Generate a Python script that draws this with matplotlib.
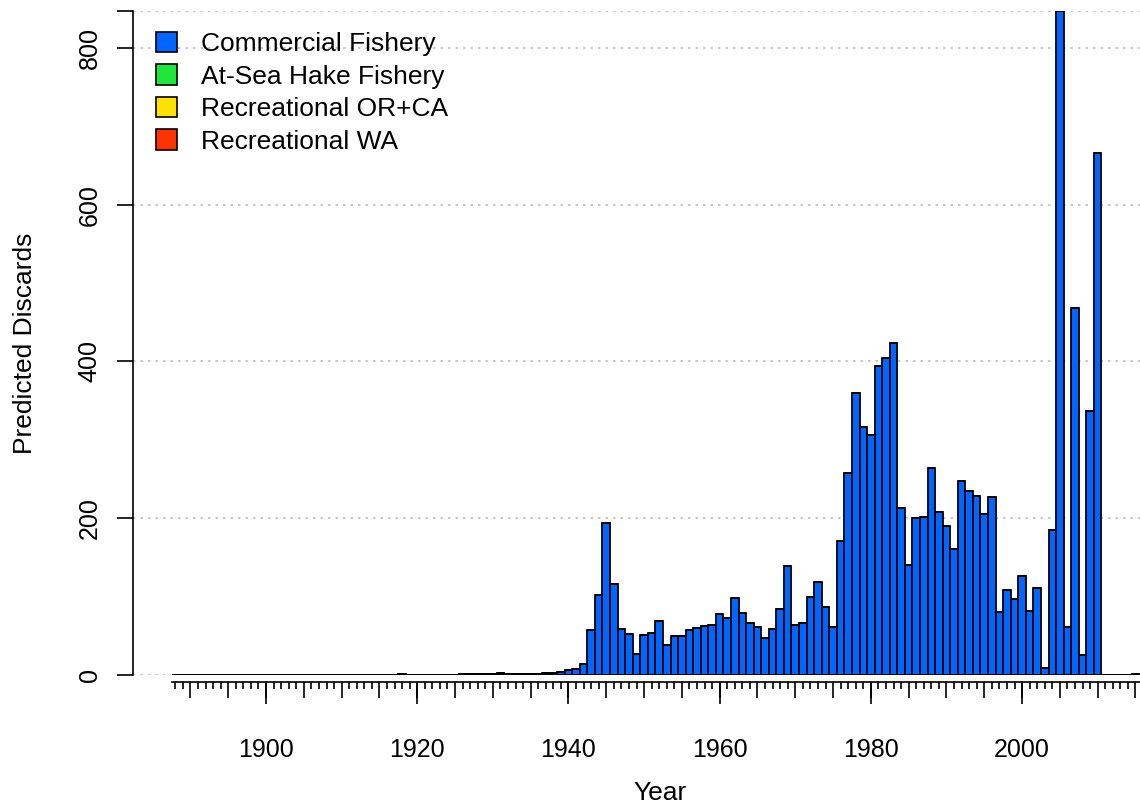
import numpy as np
import matplotlib.pyplot as plt
from matplotlib.patches import Patch
from matplotlib.ticker import FuncFormatter

plt.rcParams['font.family'] = ['Liberation Sans', 'DejaVu Sans']

years = np.arange(1888, 2016)

# predicted discards by fleet (stacked)
commercial = [
    0, 0,
    0, 0, 0, 0, 0, 0, 0, 0, 0, 0,
    0, 0, 0, 0, 0, 0, 0, 0, 0, 0,
    0, 0, 0, 0, 0, 0, 0, 0.3, 1.0, 0.3,
    0.2, 0.2, 0.2, 0.2, 0.2, 0.6, 0.7, 0.8, 0.8, 1.0,
    1.5, 2.0, 1.4, 0.9, 1.0, 1.5, 1.6, 2.0, 2.4, 3.5,
    6.4, 7.7, 13.6, 57.4, 102, 193.5, 115.6, 58.2, 52.7, 26.4,
    51.4, 53.6, 69.3, 38.3, 49.7, 49.7, 57.8, 59.9, 62, 63.3,
    77.4, 72.3, 97.8, 79.7, 66.7, 61.6, 46.8, 58.7, 84.2, 139.4,
    63.8, 65.9, 99.9, 119, 86.3, 61.6, 171.3, 257.2, 360, 316.7,
    306, 394.5, 404.7, 423.8, 212.6, 140.3, 199.8, 201.9, 264.4, 208.3,
    190.5, 160.7, 247.4, 234.7, 228.3, 205.3, 227.4, 79.9, 108.4, 96.9,
    126.7, 82, 110.5, 9.4, 184.9, 847, 61, 468, 25.6, 337,
    666, 0, 0, 0, 0, 1.2,
]
hake = [0.0] * len(years)
rec_orca = [0.0] * len(years)
rec_wa = [0.0] * len(years)

fleets = ['Commercial Fishery', 'At-Sea Hake Fishery',
          'Recreational OR+CA', 'Recreational WA']
colors = ['#0066FF', '#1EE63C', '#FFE100', '#FF3300']
series = [commercial, hake, rec_orca, rec_wa]

total = np.sum(series, axis=0)
ymax = total.max()

fig = plt.figure(figsize=(11.4, 8.08), dpi=100)
ax = fig.add_axes([133/1140, 1 - 675/808, 1007/1140, 664/808])

bottom = np.zeros(len(years))
for vals, col in zip(series, colors):
    ax.bar(years, vals, width=1.0, bottom=bottom, color=col,
           edgecolor='black', linewidth=1.3, zorder=2)
    bottom = bottom + np.array(vals)

for h in [0, 200, 400, 600, 800, ymax]:
    ax.axhline(h, color='#BDBDBD', lw=1.2, ls=(0, (1.5, 3)), zorder=1)

ax.set_xlim(1882.4, 2015.6)
ax.set_ylim(0, ymax)

for s in ['top', 'right']:
    ax.spines[s].set_visible(False)
ax.spines['left'].set_bounds(0, ymax)
ax.spines['left'].set_linewidth(1.2)
ax.spines['bottom'].set_position(('outward', 5))
ax.spines['bottom'].set_bounds(1887.5, 2015.6)
ax.spines['bottom'].set_linewidth(1.2)

ax.set_yticks([0, 200, 400, 600, 800, ymax])
ax.set_yticklabels(['0', '200', '400', '600', '800', ''])
ax.tick_params(axis='y', length=11.5, width=1.2, labelsize=18, pad=11)
for lbl in ax.get_yticklabels():
    lbl.set_rotation(90)
    lbl.set_va('center')

ax.set_xticks(np.arange(1890, 2016, 5))
ax.set_xticks(years, minor=True)
ax.xaxis.set_major_formatter(FuncFormatter(lambda v, p: f'{int(v)}' if v % 20 == 0 else ''))
ax.tick_params(axis='x', which='major', length=11.5, width=1.2, labelsize=18, pad=29)
ax.tick_params(axis='x', which='minor', length=5, width=1.2)

sec = ax.secondary_xaxis(location=-7/664)
sec.set_xticks(np.arange(1900, 2016, 20))
sec.tick_params(length=16, width=1.2, labelbottom=False)
sec.spines['bottom'].set_visible(False)

fig.text(25/1140, 1 - 343/808, 'Predicted Discards', rotation=90,
         ha='center', va='center', fontsize=19)
fig.text(660/1140, 1 - 793/808, 'Year', ha='center', va='center', fontsize=19)

handles = [Patch(facecolor=c, edgecolor='black', linewidth=1.2) for c in colors]
ax.legend(handles, fleets, loc='upper left', bbox_to_anchor=(156/1140, 1 - 32/808),
          bbox_transform=fig.transFigure, frameon=False, fontsize=19,
          handlelength=0.8, handleheight=0.8, handletextpad=0.9,
          labelspacing=0.31, borderpad=0, borderaxespad=0)

fig.savefig('out.png', dpi=100)
